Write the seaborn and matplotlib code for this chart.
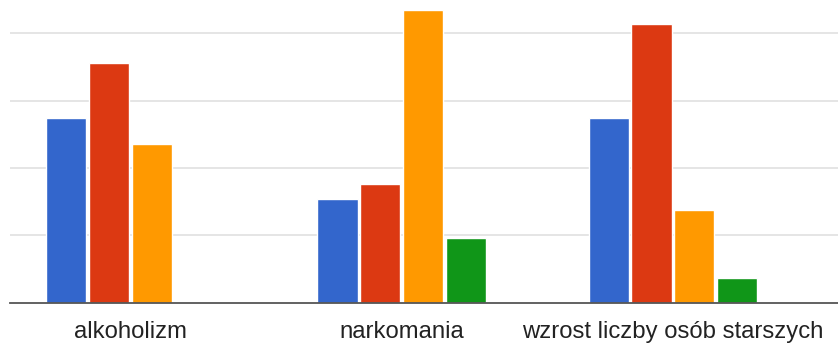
import matplotlib
matplotlib.use("Agg")
import matplotlib.pyplot as plt
import seaborn as sns
import pandas as pd

categories = ["alkoholizm", "narkomania", "wzrost liczby osób starszych"]
series_names = ["seria 1", "seria 2", "seria 3", "seria 4"]
series_1 = [13.7, 7.7, 13.7]
series_2 = [17.8, 8.8, 20.7]
series_3 = [11.8, 21.7, 6.9]
series_4 = [0.0, 4.8, 1.8]
colors = ["#3366CC", "#DC3912", "#FF9900", "#109618"]

rows = []
for name, vals in zip(series_names, [series_1, series_2, series_3, series_4]):
    for c, v in zip(categories, vals):
        rows.append({"kategoria": c, "seria": name, "wartosc": v})
df = pd.DataFrame(rows)

sns.set_theme(style="white")
plt.rcParams["font.family"] = ["Liberation Sans", "DejaVu Sans"]

fig = plt.figure(figsize=(8.38, 3.45), dpi=100)
ax = fig.add_axes([10 / 838, 42.5 / 345, 828 / 838, 302.5 / 345])

sns.barplot(data=df, x="kategoria", y="wartosc", hue="seria", order=categories,
            hue_order=series_names, palette=colors, width=0.63, gap=0.06,
            saturation=1, legend=False, ax=ax, zorder=3)

ax.set_xlim(-0.444, 2.609)
ax.set_ylim(0, 22.47)
ax.set_yticks([5, 10, 15, 20])
ax.set_yticklabels([])
ax.yaxis.grid(True, color="#e3e3e3", linewidth=1.3, zorder=0)
ax.xaxis.grid(False)
ax.set_axisbelow(True)
ax.tick_params(axis="y", length=0)
ax.tick_params(axis="x", length=0, pad=13, labelsize=17.2, labelcolor="#222222")
ax.set_xlabel("")
ax.set_ylabel("")
for side in ["top", "right", "left"]:
    ax.spines[side].set_visible(False)
ax.spines["bottom"].set_color("#555555")
ax.spines["bottom"].set_linewidth(1.3)
ax.spines["bottom"].set_zorder(4)

fig.savefig("out.png", dpi=100, facecolor="white")
